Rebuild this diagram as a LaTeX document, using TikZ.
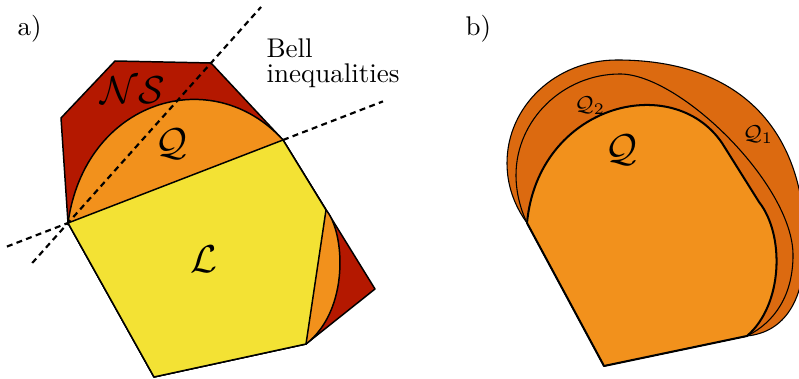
\documentclass[tikz,border=0pt]{standalone}
\usetikzlibrary{calc}
\definecolor{nsred}{RGB}{180,24,0}
\definecolor{qorange}{RGB}{242,145,28}
\definecolor{lyellow}{RGB}{243,226,52}
\definecolor{qdark}{RGB}{220,106,16}
\begin{document}
\begin{tikzpicture}[x=0.37pt,y=-0.37pt,
  outline/.style={draw=black,line width=0.55pt,line join=round},
  thinline/.style={draw=black,line width=0.4pt,line join=round},
  thickline/.style={draw=black,line width=0.75pt,line join=round},
  bellline/.style={draw=black,line width=0.8pt,dash pattern=on 2.2pt off 1.6pt},
  callab/.style={inner sep=0pt,font=\fontsize{14}{16}\selectfont},
  smalllab/.style={inner sep=0pt,font=\footnotesize},
  txt/.style={inner sep=0pt}]
\useasboundingbox (0,0) rectangle (799,379);
\clip (0,0) rectangle (799,379);
% ---------- panel a ----------
\coordinate (v1) at (68,223);
\coordinate (n1) at (61,118);
\coordinate (n2) at (115,61);
\coordinate (n3) at (211,63);
\coordinate (v2) at (283,140);
\coordinate (v3) at (326,210);
\coordinate (n4) at (375,289);
\coordinate (v4) at (306,344);
\coordinate (v5) at (154,377);
\fill[nsred,outline] (v1) -- (n1) -- (n2) -- (n3) -- (v2) -- (n4) -- (v4) -- (v5) -- cycle;
\fill[qorange,outline] (v1) .. controls (85,100) and (212,62) .. (v2) -- (v3)
   .. controls (345,232) and (350,310) .. (v4) -- (v5) -- cycle;
\fill[lyellow,outline] (v1) -- (v2) -- (v3) -- (v4) -- (v5) -- cycle;
\draw[bellline] ($(v1)!-0.25!(n3)$) -- ($(v1)!1.35!(n3)$);
\draw[bellline] ($(v1)!-0.284!(v2)$) -- (v1);
\draw[bellline] (v2) -- ($(v1)!1.465!(v2)$);
\node[txt,anchor=base west] (labA) at (17,36) {a)};
\node[txt,anchor=north west,align=left] (bell) at (266,38) {Bell\\[-2.75pt]inequalities};
\node[callab] (ns) at (133,90) {$\mathcal{NS}$};
\node[callab] (qa) at (171,144) {$\mathcal{Q}$};
\node[callab] (la) at (204,259) {$\mathcal{L}$};
% ---------- panel b ----------
\coordinate (q1) at (527,223);
\coordinate (q2) at (722,143);
\coordinate (q3) at (759,202);
\coordinate (q4) at (747,336);
\coordinate (q5) at (604,366);
% outer set Q1
\coordinate (oB) at (507,163);
\coordinate (oC) at (617,60);
\coordinate (oD) at (805,245);
\fill[qdark,thinline] (q1) .. controls (514,205) and (507,185) .. (oB)
   .. controls (507,106) and (556,60) .. (oC)
   .. controls (745,60) and (805,135) .. (oD)
   .. controls (805,300) and (785,332) .. (q4) -- (q5) -- cycle;
% middle set Q2
\coordinate (mB) at (516,175);
\coordinate (mC) at (620,74);
\coordinate (mD) at (793,255);
\fill[qdark,thinline] (q1) .. controls (520,208) and (516,192) .. (mB)
   .. controls (516,120) and (563,74) .. (mC)
   .. controls (680,74) and (793,185) .. (mD)
   .. controls (793,295) and (775,322) .. (q4) -- (q5) -- cycle;
% quantum set Q
\fill[qorange,thickline] (q1) .. controls (538,105) and (672,70) .. (q2) -- (q3)
   .. controls (785,235) and (783,305) .. (q4) -- (q5) -- cycle;
\node[txt,anchor=base west] (labB) at (465,36) {b)};
\node[callab] (qb) at (621,150) {$\mathcal{Q}$};
\node[smalllab] (q2l) at (590,106) {$\mathcal{Q}_2$};
\node[smalllab] (q1l) at (758,135) {$\mathcal{Q}_1$};
\end{tikzpicture}
\end{document}
